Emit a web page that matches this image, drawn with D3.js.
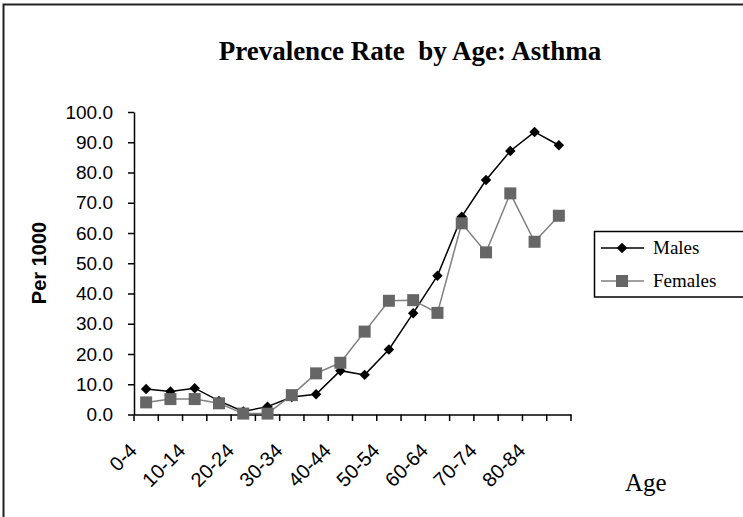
<!DOCTYPE html>
<html><head><meta charset="utf-8">
<script src="https://cdn.jsdelivr.net/npm/d3@7"></script>
<style>html,body{margin:0;padding:0;background:#fff;overflow:hidden}</style>
</head><body>
<svg id="c" width="743" height="517"></svg>
<script>
const categories = ["0-4","5-9","10-14","15-19","20-24","25-29","30-34","35-39","40-44","45-49","50-54","55-59","60-64","65-69","70-74","75-79","80-84","85-89"];
const males   = [8.4, 7.6, 8.7, 4.5, 1.0, 2.6, 5.8, 6.7, 14.5, 13.1, 21.5, 33.5, 45.9, 65.4, 77.5, 87.1, 93.4, 89.0];
const females = [4.0, 5.1, 5.1, 3.7, 0.3, 0.3, 6.4, 13.6, 17.1, 27.4, 37.6, 37.8, 33.6, 63.2, 53.6, 73.1, 57.1, 65.7];
const yTicks = [0,10,20,30,40,50,60,70,80,90,100];
const seriesNames = ["Males","Females"];
const title = "Prevalence Rate  by Age: Asthma";

const svg = d3.select("#c");
// outer border (top & left visible)
svg.append("path").attr("d","M3.5,517 V4.5 H743").attr("fill","none").attr("stroke","#222").attr("stroke-width",2);

const x = d3.scaleBand().domain(categories).range([134,571]);
const y = d3.scaleLinear().domain([0,100]).range([414.5,112]);

svg.append("text").attr("x",410).attr("y",60).attr("text-anchor","middle")
  .style("white-space","pre")
  .attr("font-family","Liberation Serif, Times New Roman, serif").attr("font-weight","bold").attr("font-size",27)
  .text(title);

// y axis
const ya = svg.append("g").attr("transform","translate(134,0)")
  .call(d3.axisLeft(y).tickValues(yTicks).tickSize(6).tickSizeOuter(0).tickFormat(d3.format(".1f")));
ya.select(".domain").attr("stroke","#000").attr("stroke-width",1.5);
ya.selectAll(".tick line").attr("stroke","#000").attr("stroke-width",1.5);
ya.selectAll(".tick text").attr("x",-21).attr("font-family","Liberation Sans, Arial, sans-serif").attr("font-size",19).attr("fill","#000");

// x axis
const xa = svg.append("g").attr("transform","translate(0,414.5)")
  .call(d3.axisBottom(x).tickSize(0).tickSizeOuter(0).tickFormat(""));
xa.select(".domain").attr("stroke","#000").attr("stroke-width",1.5);
xa.selectAll(".tick").remove();
const bounds = categories.map(c=>x(c)).concat([x.range()[1]]);
svg.append("g").selectAll("line").data(bounds).join("line")
  .attr("x1",d=>d).attr("x2",d=>d).attr("y1",414.5).attr("y2",421).attr("stroke","#000").attr("stroke-width",1.5);
svg.append("g").selectAll("text").data(categories.filter((c,i)=>i%2===0)).join("text")
  .attr("transform",d=>`translate(${x(d)+x.bandwidth()/2-8},452) rotate(-45)`)
  .attr("text-anchor","end")
  .attr("font-family","Liberation Sans, Arial, sans-serif").attr("font-size",20).text(d=>d);

svg.append("text").attr("transform","translate(46,263) rotate(-90)").attr("text-anchor","middle")
  .attr("font-family","Liberation Sans, Arial, sans-serif").attr("font-weight","bold").attr("font-size",20).text("Per 1000");
svg.append("text").attr("x",625).attr("y",491).attr("font-family","Liberation Serif, Times New Roman, serif").attr("font-size",25).text("Age");

const cx = (d,i)=>x(categories[i])+x.bandwidth()/2;
const line = d3.line().x((d,i)=>cx(d,i)).y(d=>y(d));

// males
svg.append("path").datum(males).attr("d",line).attr("fill","none").attr("stroke","#000").attr("stroke-width",1.5);
svg.append("g").selectAll("path").data(males).join("path")
  .attr("d",d3.symbol().type(d3.symbolSquare).size(55)).attr("transform",(d,i)=>`translate(${cx(d,i)},${y(d)}) rotate(45)`).attr("fill","#000");
// females
svg.append("path").datum(females).attr("d",line).attr("fill","none").attr("stroke","#7f7f7f").attr("stroke-width",1.5);
svg.append("g").selectAll("rect").data(females).join("rect")
  .attr("x",(d,i)=>cx(d,i)-6).attr("y",d=>y(d)-6).attr("width",12).attr("height",12).attr("fill","#666");

// legend
svg.append("rect").attr("x",594.5).attr("y",231.5).attr("width",160).attr("height",65.5).attr("fill","#fff").attr("stroke","#000").attr("stroke-width",1.5);
const lg = svg.append("g").selectAll("g").data(seriesNames).join("g").attr("transform",(d,i)=>`translate(0,${i===0?248:281})`);
lg.append("line").attr("x1",601).attr("x2",644).attr("stroke",(d,i)=>i===0?"#000":"#7f7f7f").attr("stroke-width",1.5);
lg.filter((d,i)=>i===0).append("path").attr("d",d3.symbol().type(d3.symbolSquare).size(55)).attr("transform","translate(622,0) rotate(45)").attr("fill","#000");
lg.filter((d,i)=>i===1).append("rect").attr("x",616).attr("y",-6).attr("width",12).attr("height",12).attr("fill","#666");
lg.append("text").attr("x",653).attr("y",6).attr("font-family","Liberation Serif, Times New Roman, serif").attr("font-size",19).text(d=>d);
</script>
</body></html>
